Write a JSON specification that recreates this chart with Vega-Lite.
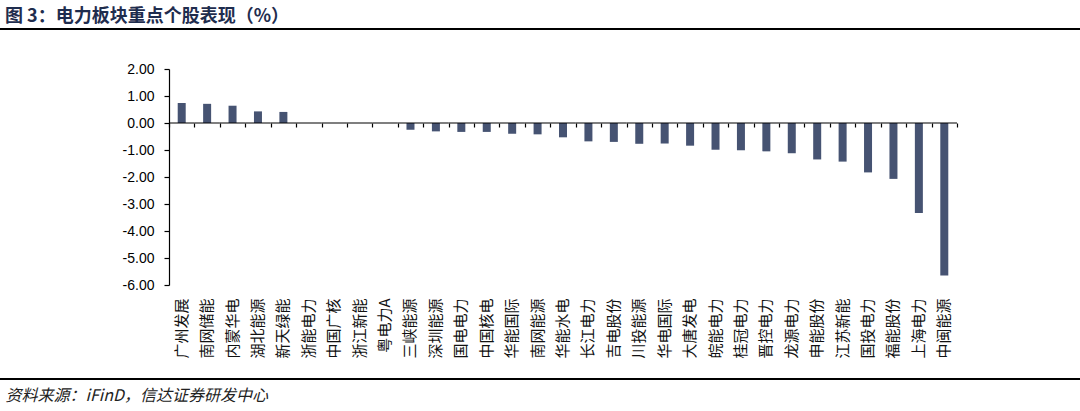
{
  "$schema": "https://vega.github.io/schema/vega-lite/v6.json",
  "width": 1080,
  "height": 216,
  "autosize": {"type": "none"},
  "padding": {"top": 69, "left": 0, "right": 0, "bottom": 126},
  "background": "#ffffff",
  "config": {"view": {"stroke": null}},
  "title": {
    "text": "图 3：电力板块重点个股表现（%）",
    "anchor": "start",
    "frame": "group",
    "dx": 5,
    "offset": 3,
    "font": "Noto Sans CJK SC",
    "fontSize": 18,
    "fontWeight": "bold",
    "color": "#1f2d4e"
  },
  "data": {
    "values": [
      {"name": "广州发展", "value": 0.74},
      {"name": "南网储能", "value": 0.71},
      {"name": "内蒙华电", "value": 0.64},
      {"name": "湖北能源", "value": 0.43},
      {"name": "新天绿能", "value": 0.41},
      {"name": "浙能电力", "value": 0},
      {"name": "中国广核", "value": 0},
      {"name": "浙江新能", "value": 0},
      {"name": "粤电力A", "value": 0},
      {"name": "三峡能源", "value": -0.25},
      {"name": "深圳能源", "value": -0.31},
      {"name": "国电电力", "value": -0.33},
      {"name": "中国核电", "value": -0.33},
      {"name": "华能国际", "value": -0.40},
      {"name": "南网能源", "value": -0.42},
      {"name": "华能水电", "value": -0.53},
      {"name": "长江电力", "value": -0.68},
      {"name": "吉电股份", "value": -0.70},
      {"name": "川投能源", "value": -0.77},
      {"name": "华电国际", "value": -0.76},
      {"name": "大唐发电", "value": -0.84},
      {"name": "皖能电力", "value": -0.99},
      {"name": "桂冠电力", "value": -1.01},
      {"name": "晋控电力", "value": -1.05},
      {"name": "龙源电力", "value": -1.12},
      {"name": "申能股份", "value": -1.35},
      {"name": "江苏新能", "value": -1.43},
      {"name": "国投电力", "value": -1.83},
      {"name": "福能股份", "value": -2.07},
      {"name": "上海电力", "value": -3.33},
      {"name": "中闽能源", "value": -5.65}
    ]
  },
  "resolve": {"axis": {"x": "independent"}},
  "layer": [
    {
      "mark": {"type": "bar", "size": 8, "color": "#465372"},
      "encoding": {
        "x": {
          "field": "name",
          "type": "nominal",
          "sort": null,
          "scale": {"type": "band", "paddingInner": 0, "paddingOuter": 0, "range": [169, 957]},
          "axis": {
            "orient": "bottom",
            "domain": false,
            "ticks": false,
            "tickSize": 0,
            "labelAngle": -90,
            "labelPadding": 13,
            "labelFont": "Noto Sans CJK SC",
            "labelFontSize": 15,
            "labelColor": "#111111",
            "title": "资料来源：iFinD，信达证券研发中心",
            "titleX": 5,
            "titleY": 110,
            "titleAlign": "left",
            "titleAnchor": "start",
            "titleBaseline": "middle",
            "titleFont": "Noto Sans CJK SC",
            "titleFontSize": 16,
            "titleFontWeight": "normal",
            "titleFontStyle": "italic",
            "titleColor": "#222222"
          }
        },
        "y": {
          "field": "value",
          "type": "quantitative",
          "scale": {"domain": [-6, 2], "nice": false, "zero": false},
          "axis": {
            "offset": -169,
            "values": [-6, -5, -4, -3, -2, -1, 0, 1, 2],
            "grid": false,
            "domainColor": "#000000",
            "domainWidth": 1.2,
            "ticks": true,
            "tickColor": "#000000",
            "tickSize": 5,
            "tickWidth": 1.2,
            "labelPadding": 10,
            "labelFont": "Liberation Sans",
            "labelFontSize": 14,
            "labelColor": "#000000",
            "labelOverlap": false,
            "labelExpr": "replace(format(datum.value, '.2f'), '−', '-')",
            "title": null
          }
        }
      }
    },
    {
      "mark": {"type": "bar", "width": {"band": 1}, "fill": null, "stroke": "#000000", "strokeWidth": 1.2},
      "encoding": {
        "x": {
          "field": "name",
          "type": "nominal",
          "sort": null,
          "scale": {"type": "band", "paddingInner": 0, "paddingOuter": 0, "range": [169, 957]},
          "axis": {
            "orient": "bottom",
            "offset": -162,
            "domain": false,
            "labels": false,
            "ticks": true,
            "tickBand": "extent",
            "tickSize": 4,
            "tickWidth": 1.2,
            "tickColor": "#000000",
            "title": null
          }
        },
        "y": {
          "datum": 0,
          "type": "quantitative",
          "scale": {"domain": [-6, 2], "nice": false, "zero": false},
          "axis": {
            "offset": -169,
            "values": [-6, -5, -4, -3, -2, -1, 0, 1, 2],
            "grid": false,
            "domainColor": "#000000",
            "domainWidth": 1.2,
            "ticks": true,
            "tickColor": "#000000",
            "tickSize": 5,
            "tickWidth": 1.2,
            "labelPadding": 10,
            "labelFont": "Liberation Sans",
            "labelFontSize": 14,
            "labelColor": "#000000",
            "labelOverlap": false,
            "labelExpr": "replace(format(datum.value, '.2f'), '−', '-')",
            "title": null
          }
        },
        "y2": {"datum": 0}
      }
    },
    {
      "mark": {"type": "rule", "color": "#000000", "strokeWidth": 1.6},
      "encoding": {
        "y": {
          "datum": 3.47,
          "type": "quantitative",
          "scale": {"domain": [-6, 2], "nice": false, "zero": false},
          "axis": {
            "offset": -169,
            "values": [-6, -5, -4, -3, -2, -1, 0, 1, 2],
            "grid": false,
            "domainColor": "#000000",
            "domainWidth": 1.2,
            "ticks": true,
            "tickColor": "#000000",
            "tickSize": 5,
            "tickWidth": 1.2,
            "labelPadding": 10,
            "labelFont": "Liberation Sans",
            "labelFontSize": 14,
            "labelColor": "#000000",
            "labelOverlap": false,
            "labelExpr": "replace(format(datum.value, '.2f'), '−', '-')",
            "title": null
          }
        }
      }
    },
    {
      "mark": {"type": "rule", "color": "#000000", "strokeWidth": 1.6},
      "encoding": {
        "y": {
          "datum": -9.47,
          "type": "quantitative",
          "scale": {"domain": [-6, 2], "nice": false, "zero": false},
          "axis": {
            "offset": -169,
            "values": [-6, -5, -4, -3, -2, -1, 0, 1, 2],
            "grid": false,
            "domainColor": "#000000",
            "domainWidth": 1.2,
            "ticks": true,
            "tickColor": "#000000",
            "tickSize": 5,
            "tickWidth": 1.2,
            "labelPadding": 10,
            "labelFont": "Liberation Sans",
            "labelFontSize": 14,
            "labelColor": "#000000",
            "labelOverlap": false,
            "labelExpr": "replace(format(datum.value, '.2f'), '−', '-')",
            "title": null
          }
        }
      }
    }
  ]
}
